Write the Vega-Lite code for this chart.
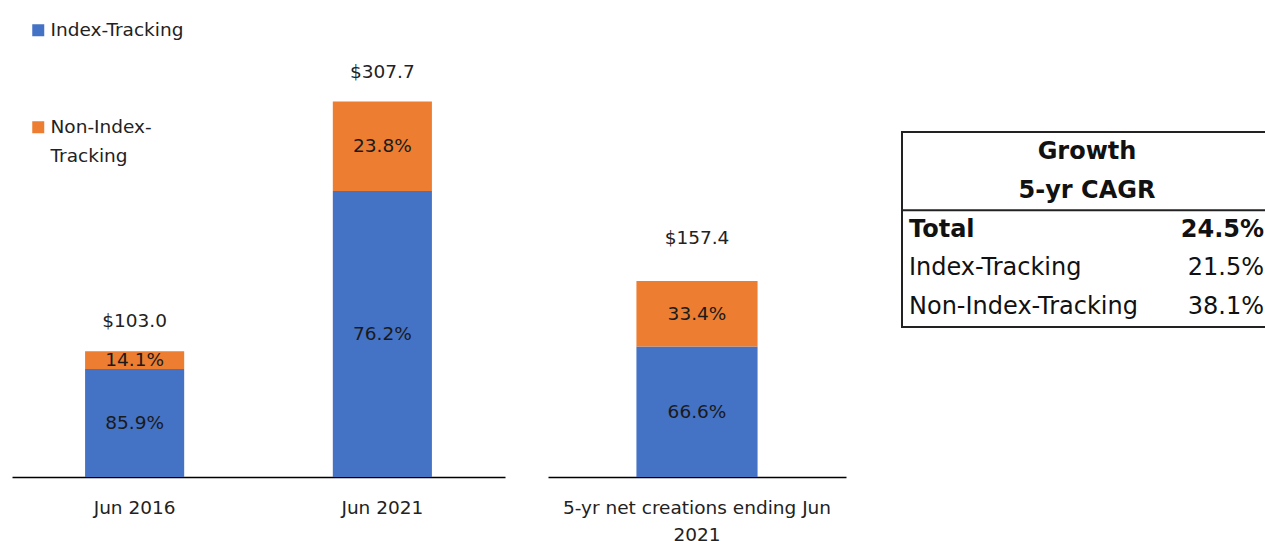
{
  "$schema": "https://vega.github.io/schema/vega-lite/v6.json",
  "padding": {"left": 12, "top": 0, "right": 0, "bottom": 0},
  "background": "white",
  "config": {
    "view": {"stroke": null},
    "font": "DejaVu Sans",
    "text": {"font": "DejaVu Sans"},
    "style": {"guide-label": {"lineHeight": 29}}
  },
  "datasets": {
    "bars": [
      {"period": "Jun 2016", "group": "Index-Tracking", "value": 88.5, "share": 0.859},
      {"period": "Jun 2016", "group": "Non-Index-Tracking", "value": 14.5, "share": 0.141},
      {"period": "Jun 2021", "group": "Index-Tracking", "value": 234.5, "share": 0.762},
      {"period": "Jun 2021", "group": "Non-Index-Tracking", "value": 73.2, "share": 0.238},
      {"period": "5-yr net creations ending Jun 2021", "group": "Index-Tracking", "value": 104.8, "share": 0.666},
      {"period": "5-yr net creations ending Jun 2021", "group": "Non-Index-Tracking", "value": 52.6, "share": 0.334}
    ],
    "table": [
      {"row": "Growth", "label": "Growth", "value": "", "style": "header"},
      {"row": "5-yr CAGR", "label": "5-yr CAGR", "value": "", "style": "header"},
      {"row": "Total", "label": "Total", "value": "24.5%", "style": "bold"},
      {"row": "Index-Tracking", "label": "Index-Tracking", "value": "21.5%", "style": "normal"},
      {"row": "Non-Index-Tracking", "label": "Non-Index-Tracking", "value": "38.1%", "style": "normal"}
    ]
  },
  "spacing": 54,
  "resolve": {"scale": {"x": "independent", "y": "independent", "color": "independent"}},
  "hconcat": [
    {
      "spacing": 43,
      "bounds": "flush",
      "resolve": {"scale": {"x": "independent", "y": "independent", "color": "independent"}},
      "hconcat": [
        {
          "width": 493,
          "height": 477,
          "data": {"name": "bars"},
          "transform": [{"filter": "datum.period != '5-yr net creations ending Jun 2021'"}],
          "encoding": {
            "x": {
              "field": "period", "type": "nominal", "sort": ["Jun 2016", "Jun 2021"],
              "scale": {"paddingInner": 0.6, "paddingOuter": 0.295},
              "axis": {"title": null, "labelAngle": 0, "ticks": false, "tickSize": 0, "grid": false,
                       "domainColor": "#000", "domainWidth": 1.5, "labelFontSize": 18.5, "labelColor": "#222",
                       "labelPadding": 21, "labelLimit": 400, "labelFont": "DejaVu Sans"}
            }
          },
          "layer": [
            {
              "mark": {"type": "bar"},
              "encoding": {
                "y": {"field": "value", "type": "quantitative", "stack": "zero", "scale": {"domain": [0, 391], "nice": false}, "axis": null},
                "order": {"field": "group", "type": "nominal", "sort": "ascending"},
                "color": {
                  "field": "group", "type": "nominal",
                  "scale": {"domain": ["Index-Tracking", "Non-Index-Tracking"], "range": ["#4472C4", "#ED7D31"]},
                  "legend": {
                    "title": null, "orient": "none", "legendX": 17, "legendY": 21, "direction": "vertical", "padding": 0,
                    "symbolType": "square", "symbolSize": 144, "symbolStrokeWidth": 0,
                    "labelFontSize": 18.5, "labelColor": "#222", "labelOffset": 3, "labelLimit": 300,
                    "labelFont": "DejaVu Sans", "rowPadding": 78,
                    "labelExpr": "datum.label == 'Non-Index-Tracking' ? ['Non-Index-', 'Tracking'] : datum.label"
                  }
                }
              }
            },
            {
              "mark": {"type": "text", "fontSize": 18.5, "color": "#1a1a1a", "baseline": "middle"},
              "encoding": {
                "y": {"field": "value", "type": "quantitative", "stack": "zero", "bandPosition": 0.5},
                "order": {"field": "group", "type": "nominal", "sort": "ascending"},
                "detail": {"field": "group", "type": "nominal"},
                "text": {"field": "share", "type": "quantitative", "format": ".1%"}
              }
            },
            {
              "mark": {"type": "text", "fontSize": 18.5, "color": "#222", "baseline": "middle", "dy": -30},
              "encoding": {
                "y": {"aggregate": "sum", "field": "value", "type": "quantitative"},
                "text": {"aggregate": "sum", "field": "value", "type": "quantitative", "format": "$.1f"}
              }
            }
          ]
        },
        {
          "width": 298,
          "height": 477,
          "data": {"name": "bars"},
          "transform": [{"filter": "datum.period == '5-yr net creations ending Jun 2021'"}],
          "encoding": {
            "x": {
              "field": "period", "type": "nominal",
              "scale": {"paddingInner": 0, "paddingOuter": 0.73},
              "axis": {"title": null, "labelAngle": 0, "ticks": false, "tickSize": 0, "grid": false,
                       "domainColor": "#000", "domainWidth": 1.5, "labelFontSize": 18.5, "labelColor": "#222",
                       "labelPadding": 21, "labelLimit": 400, "labelLineHeight": 27, "labelFont": "DejaVu Sans",
                       "labelExpr": "datum.label == '5-yr net creations ending Jun 2021' ? ['5-yr net creations ending Jun', '2021'] : datum.label"}
            }
          },
          "layer": [
            {
              "mark": {"type": "bar"},
              "encoding": {
                "y": {"field": "value", "type": "quantitative", "stack": "zero", "scale": {"domain": [0, 383], "nice": false}, "axis": null},
                "order": {"field": "group", "type": "nominal", "sort": "ascending"},
                "color": {
                  "field": "group", "type": "nominal",
                  "scale": {"domain": ["Index-Tracking", "Non-Index-Tracking"], "range": ["#4472C4", "#ED7D31"]},
                  "legend": null
                }
              }
            },
            {
              "mark": {"type": "text", "fontSize": 18.5, "color": "#1a1a1a", "baseline": "middle"},
              "encoding": {
                "y": {"field": "value", "type": "quantitative", "stack": "zero", "bandPosition": 0.5},
                "order": {"field": "group", "type": "nominal", "sort": "ascending"},
                "detail": {"field": "group", "type": "nominal"},
                "text": {"field": "share", "type": "quantitative", "format": ".1%"}
              }
            },
            {
              "mark": {"type": "text", "fontSize": 18.5, "color": "#222", "baseline": "middle", "dy": -43},
              "encoding": {
                "y": {"aggregate": "sum", "field": "value", "type": "quantitative"},
                "text": {"aggregate": "sum", "field": "value", "type": "quantitative", "format": "$.1f"}
              }
            }
          ]
        }
      ]
    },
    {
      "spacing": 0,
      "bounds": "flush",
      "vconcat": [
        {
          "width": 370,
          "height": 132,
          "data": {"values": []},
          "mark": {"type": "text"},
          "encoding": {}
        },
        {
          "width": 370,
          "height": 195,
          "view": {"stroke": "#222", "strokeWidth": 2},
          "data": {"name": "table"},
          "encoding": {
            "y": {
              "field": "row", "type": "nominal",
              "sort": ["Growth", "5-yr CAGR", "Total", "Index-Tracking", "Non-Index-Tracking"],
              "scale": {"paddingInner": 0, "paddingOuter": 0.02},
              "axis": null
            }
          },
          "layer": [
            {
              "transform": [{"filter": "datum.style == 'header'"}],
              "mark": {"type": "text", "fontSize": 24, "fontWeight": "bold", "color": "#111", "baseline": "middle"},
              "encoding": {"text": {"field": "label", "type": "nominal"}}
            },
            {
              "transform": [{"filter": "datum.style != 'header'"}],
              "mark": {"type": "text", "fontSize": 24, "color": "#111", "align": "left", "dx": 7, "baseline": "middle",
                       "fontWeight": {"expr": "datum.style == 'bold' ? 'bold' : 'normal'"}},
              "encoding": {
                "x": {"datum": "label", "type": "nominal", "scale": {"type": "point", "domain": ["label", "value"], "padding": 0}, "axis": null},
                "text": {"field": "label", "type": "nominal"}
              }
            },
            {
              "transform": [{"filter": "datum.style != 'header'"}],
              "mark": {"type": "text", "fontSize": 24, "color": "#111", "align": "right", "dx": -8, "baseline": "middle",
                       "fontWeight": {"expr": "datum.style == 'bold' ? 'bold' : 'normal'"}},
              "encoding": {
                "x": {"datum": "value", "type": "nominal"},
                "text": {"field": "value", "type": "nominal"}
              }
            },
            {
              "transform": [{"filter": "datum.row == 'Total'"}],
              "mark": {"type": "rule", "color": "#222", "strokeWidth": 2},
              "encoding": {"y": {"field": "row", "type": "nominal", "bandPosition": 0}}
            }
          ]
        }
      ]
    }
  ]
}
